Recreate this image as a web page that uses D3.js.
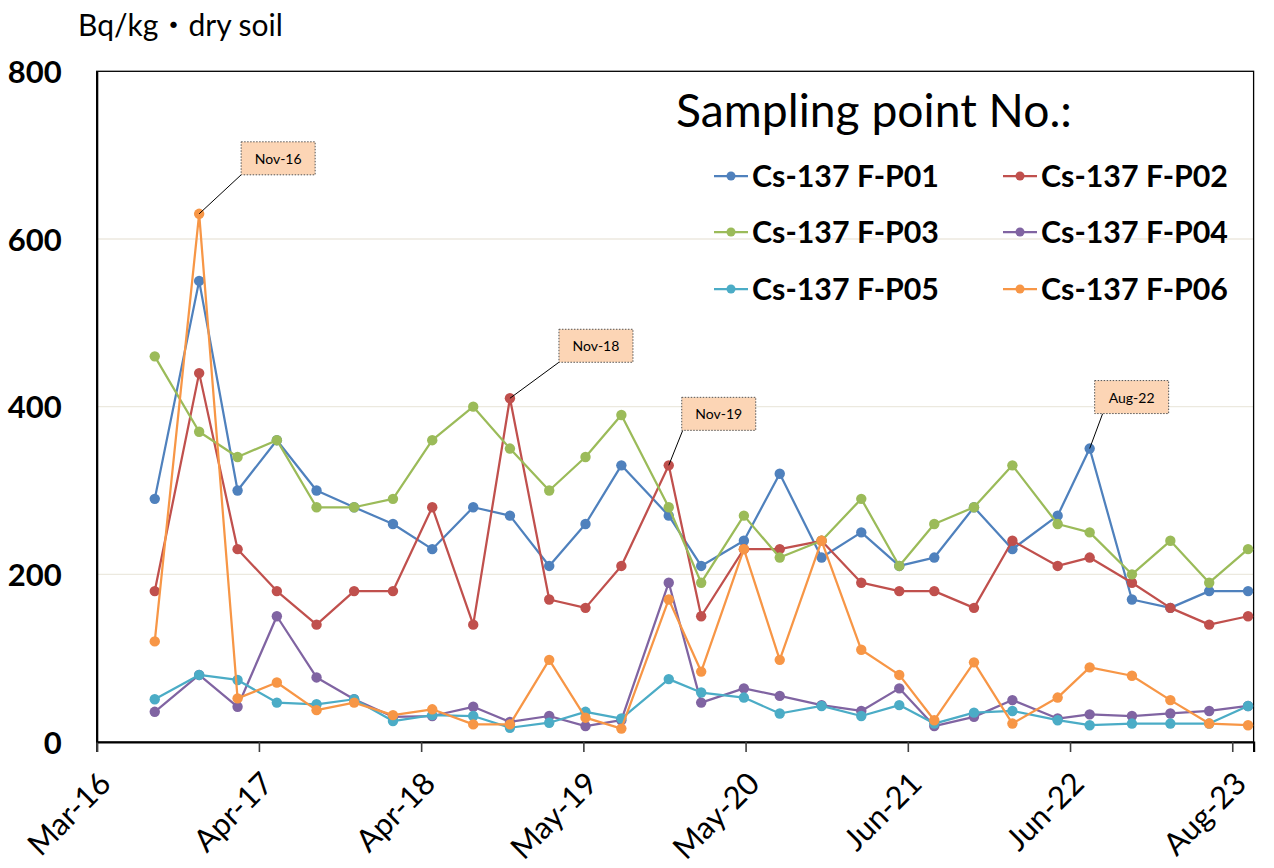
<!DOCTYPE html>
<html>
<head>
<meta charset="utf-8">
<script src="https://cdn.jsdelivr.net/npm/d3@7"></script>
<style>
  html, body { margin: 0; padding: 0; background: #fff; }
  svg { display: block; }
  text { font-family: Lato, "Noto Sans CJK JP", sans-serif; fill: #000; }
</style>
</head>
<body>
<svg id="chart" width="1274" height="868"></svg>
<script>
// ---------------- data ----------------
const sampleDates = ["2016-08-03","2016-11-15","2017-02-13","2017-05-16","2017-08-17","2017-11-13",
  "2018-02-12","2018-05-15","2018-08-19","2018-11-13","2019-02-13","2019-05-09","2019-08-01",
  "2019-11-20","2020-02-04","2020-05-14","2020-08-06","2020-11-12","2021-02-13","2021-05-13",
  "2021-08-03","2021-11-04","2022-02-02","2022-05-19","2022-08-02","2022-11-09","2023-02-07",
  "2023-05-09","2023-08-08"];

const seriesNames = ["Cs-137 F-P01","Cs-137 F-P02","Cs-137 F-P03","Cs-137 F-P04","Cs-137 F-P05","Cs-137 F-P06"];

const fp01 = [290,550,300,360,300,280,260,230,280,270,210,260,330,270,210,240,320,220,250,210,220,280,230,270,350,170,160,180,180];
const fp02 = [180,440,230,180,140,180,180,280,140,410,170,160,210,330,150,230,230,240,190,180,180,160,240,210,220,190,160,140,150];
const fp03 = [460,370,340,360,280,280,290,360,400,350,300,340,390,280,190,270,220,240,290,210,260,280,330,260,250,200,240,190,230];
const fp04 = [36,80,42,150,77,51,30,31,42,24,31,19,26,190,47,64,55,44,37,64,19,30,50,28,33,31,34,37,43];
const fp05 = [51,80,74,47,45,51,25,32,31,17,23,36,28,75,59,53,34,43,31,44,22,35,37,26,20,22,22,22,43];
const fp06 = [120,630,52,71,38,47,32,39,21,21,98,29,16,170,84,230,98,240,110,80,26,95,22,53,89,79,50,22,20];

const xDomain = ["2016-03-20","2023-08-21"];
const xTickDates = ["2016-03-20","2017-04-04","2018-04-19","2019-05-04","2020-05-18","2021-06-02","2022-06-17","2023-07-02"];
const xTickLabels = ["Mar-16","Apr-17","Apr-18","May-19","May-20","Jun-21","Jun-22","Aug-23"];
const yTicks = [0,200,400,600,800];
const yGrid = [200,400,600];

// callouts: series index, point index, label
const calloutSeries = [5,1,1,0];
const calloutPoint = [1,9,13,24];
const calloutLabels = ["Nov-16","Nov-18","Nov-19","Aug-22"];

const yAxisTitle = "Bq/kg・dry soil";
const legendTitle = "Sampling point No.:";

// ---------------- styles / layout ----------------
const colors = ["#4F81BD","#C0504D","#9BBB59","#8064A2","#4BACC6","#F79646"];
const calloutLayout = [
  {dx: 42, dy: -39, lx: 0},
  {dx: 49, dy: -36, lx: 0},
  {dx: 13, dy: -35, lx: 1},
  {dx: 5,  dy: -35, lx: 8}
];
const plot = {left: 96.7, right: 1253.6, top: 71.3, bottom: 742};

const parse = d3.timeParse("%Y-%m-%d");
const dates = sampleDates.map(parse);
const allSeries = [fp01, fp02, fp03, fp04, fp05, fp06];

const svg = d3.select("#chart");

const x = d3.scaleTime().domain(xDomain.map(parse)).range([plot.left, plot.right]);
const y = d3.scaleLinear().domain([0, 800]).range([plot.bottom, plot.top]);

function fitWidth(sel, target) {
  const node = sel.node();
  const fs = parseFloat(sel.attr("font-size"));
  const w = node.getComputedTextLength();
  sel.attr("font-size", (fs * target / w).toFixed(2));
}

// gridlines
svg.append("g").selectAll("line").data(yGrid).join("line")
  .attr("x1", plot.left).attr("x2", plot.right)
  .attr("y1", d => y(d)).attr("y2", d => y(d))
  .attr("stroke", "#ECE9DF").attr("stroke-width", 1.3);

// plot border
svg.append("rect")
  .attr("x", plot.left).attr("y", plot.top)
  .attr("width", plot.right - plot.left).attr("height", plot.bottom - plot.top)
  .attr("fill", "none").attr("stroke", "#000").attr("stroke-width", 1.3);

// x axis
const xAxis = d3.axisBottom(x)
  .tickValues(xTickDates.map(parse))
  .tickSize(10)
  .tickFormat((d, i) => xTickLabels[i]);
const gx = svg.append("g").attr("transform", `translate(0,${plot.bottom})`).call(xAxis);
gx.select(".domain").attr("stroke", "#000").attr("stroke-width", 2.2);
gx.selectAll(".tick line").attr("stroke", "#404040").attr("stroke-width", 1.6);
gx.selectAll(".tick text")
  .attr("font-size", 31)
  .attr("font-family", "Lato, sans-serif")
  .attr("fill", "#000")
  .attr("text-anchor", "end")
  .attr("dominant-baseline", "central")
  .attr("y", 0).attr("dy", null)
  .attr("transform", "translate(7,35) rotate(-45)");

// y axis
const yAxis = d3.axisLeft(y).tickValues(yTicks).tickSize(0).tickPadding(35);
const gy = svg.append("g").attr("transform", `translate(${plot.left},0)`).call(yAxis);
gy.select(".domain").attr("stroke", "#000").attr("stroke-width", 2.2);
gy.selectAll(".tick text")
  .attr("font-size", 31)
  .attr("font-weight", "bold")
  .attr("font-family", "Lato, sans-serif")
  .attr("fill", "#000")
  .attr("dy", "0.36em");

// axis title
const yt = svg.append("text").attr("x", 78).attr("y", 36).attr("font-size", 28).text(yAxisTitle);
fitWidth(yt, 205);

// series
const line = d3.line().x((d, i) => x(dates[i])).y(d => y(d));
allSeries.forEach((vals, si) => {
  const g = svg.append("g");
  g.append("path").datum(vals)
    .attr("d", line)
    .attr("fill", "none")
    .attr("stroke", colors[si])
    .attr("stroke-width", 2.25)
    .attr("stroke-linejoin", "round");
  g.selectAll("circle").data(vals).join("circle")
    .attr("cx", (d, i) => x(dates[i]))
    .attr("cy", d => y(d))
    .attr("r", 5.2)
    .attr("fill", colors[si]);
});

// callouts
calloutLabels.forEach((lab, k) => {
  const si = calloutSeries[k], pi = calloutPoint[k], L = calloutLayout[k];
  const px = x(dates[pi]), py = y(allSeries[si][pi]);
  const bx = px + L.dx, by = py + L.dy;
  const bw = 74, bh = 33;
  const g = svg.append("g");
  g.append("line")
    .attr("x1", bx + L.lx).attr("y1", by)
    .attr("x2", px).attr("y2", py)
    .attr("stroke", "#000").attr("stroke-width", 1);
  g.append("rect")
    .attr("x", bx).attr("y", by - bh).attr("width", bw).attr("height", bh)
    .attr("fill", "#FCD5B5").attr("stroke", "#555").attr("stroke-width", 1)
    .attr("stroke-dasharray", "1.5,1.5");
  g.append("text")
    .attr("x", bx + bw / 2).attr("y", by - bh / 2)
    .attr("text-anchor", "middle").attr("dominant-baseline", "central")
    .attr("font-size", 14).text(lab);
});

// legend
const lt = svg.append("text").attr("x", 676).attr("y", 127).attr("font-size", 40).text(legendTitle);
fitWidth(lt, 396);

const legendCols = [714, 1003];
const legendRows = [176, 232, 289];
seriesNames.forEach((name, i) => {
  const cx = legendCols[i % 2], cy = legendRows[Math.floor(i / 2)];
  const g = svg.append("g");
  g.append("line").attr("x1", cx).attr("x2", cx + 34).attr("y1", cy).attr("y2", cy)
    .attr("stroke", colors[i]).attr("stroke-width", 2.25);
  g.append("circle").attr("cx", cx + 17).attr("cy", cy).attr("r", 4.5).attr("fill", colors[i]);
  const t = g.append("text").attr("x", cx + 38).attr("y", cy).attr("dy", "0.36em")
    .attr("font-size", 27).attr("font-weight", "bold").text(name);
  fitWidth(t, 187);
});
</script>
</body>
</html>
